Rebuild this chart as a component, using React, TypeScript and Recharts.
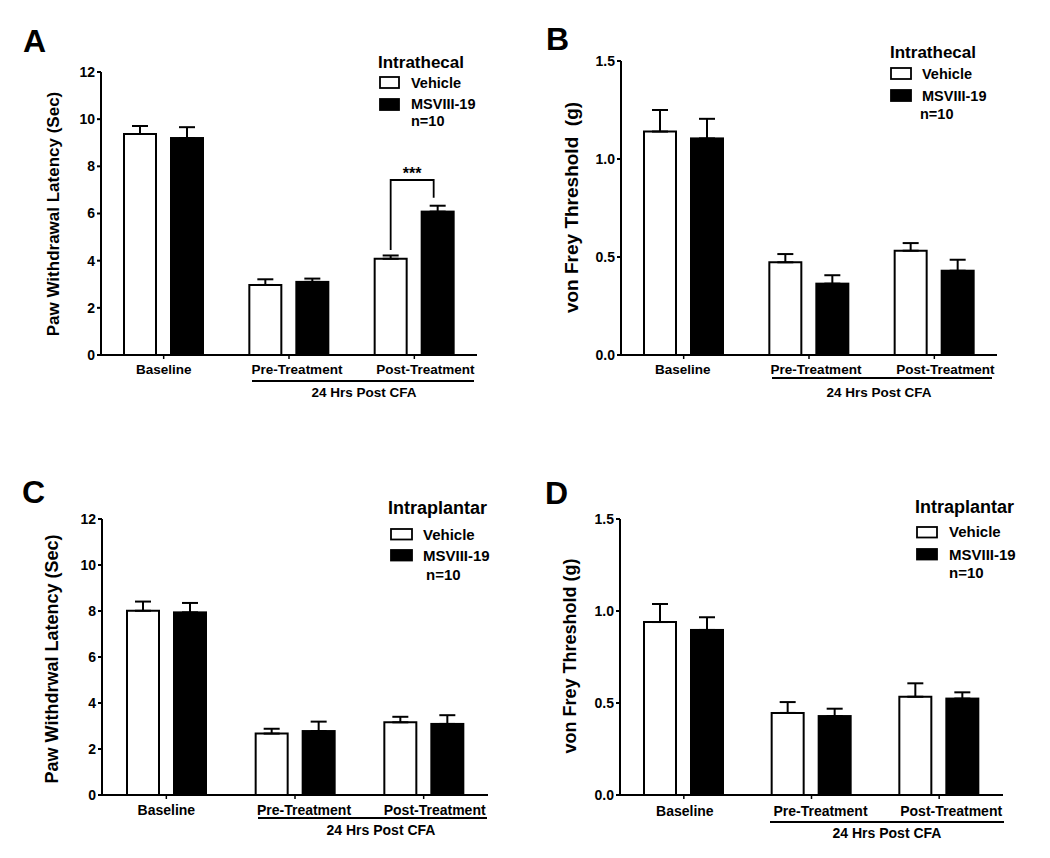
import React from "react"
import { BarChart, Bar, XAxis, YAxis, ErrorBar } from "recharts"

const FONT = '"Liberation Sans", Arial, Helvetica, sans-serif'

// groups on the x axis
const categories = ["Baseline", "Pre-Treatment", "Post-Treatment"]

// A: intrathecal, paw withdrawal latency (sec)
const aVehicle = [9.37, 2.97, 4.08]
const aVehicleSem = [0.34, 0.24, 0.14]
const aMsviii = [9.2, 3.1, 6.08]
const aMsviiiSem = [0.46, 0.14, 0.25]

// B: intrathecal, von Frey threshold (g)
const bVehicle = [1.14, 0.473, 0.532]
const bVehicleSem = [0.11, 0.042, 0.039]
const bMsviii = [1.105, 0.364, 0.43]
const bMsviiiSem = [0.1, 0.043, 0.056]

// C: intraplantar, paw withdrawal latency (sec)
const cVehicle = [8.01, 2.67, 3.16]
const cVehicleSem = [0.4, 0.21, 0.24]
const cMsviii = [7.94, 2.78, 3.09]
const cMsviiiSem = [0.41, 0.41, 0.38]

// D: intraplantar, von Frey threshold (g)
const dVehicle = [0.94, 0.446, 0.534]
const dVehicleSem = [0.098, 0.059, 0.073]
const dMsviii = [0.897, 0.429, 0.524]
const dMsviiiSem = [0.069, 0.04, 0.034]

const latencyTicks = [0, 2, 4, 6, 8, 10, 12]
const thresholdTicks = [0, 0.5, 1.0, 1.5]

// significance bracket in panel A (values in seconds)
const aBracket = { category: "Post-Treatment", level: 7.42, leftEnd: 4.45, rightEnd: 6.67, label: "***" }

const buildRows = (veh: number[], vehSem: number[], ms: number[], msSem: number[]) =>
  categories.map((name, i) => ({
    name,
    veh: veh[i],
    vehErr: [0, vehSem[i]],
    ms: ms[i],
    msErr: [0, msSem[i]],
  }))

const Y_AXIS_W = 60
const X_AXIS_H = 30
const BAR_SIZE = 32
const BAR_GAP = 15

const panels = [
  {
    key: "A",
    rows: buildRows(aVehicle, aVehicleSem, aMsviii, aMsviiiSem),
    ticks: latencyTicks,
    decimals: 0,
    frame: { x: 0, y: 0, w: 520, h: 430 },
    plot: { axisX: 101, top: 72, bottom: 355, right: 477 },
    tickFont: 13.5,
    tickMargin: 5,
    labelShift: [0, 8, 11],
    bracket: aBracket,
  },
  {
    key: "B",
    rows: buildRows(bVehicle, bVehicleSem, bMsviii, bMsviiiSem),
    ticks: thresholdTicks,
    decimals: 1,
    frame: { x: 520, y: 0, w: 530, h: 430 },
    plot: { axisX: 621, top: 61, bottom: 355, right: 997 },
    tickFont: 13.5,
    tickMargin: 5,
    labelShift: [-1, 7, 11],
    bracket: null,
  },
  {
    key: "C",
    rows: buildRows(cVehicle, cVehicleSem, cMsviii, cMsviiiSem),
    ticks: latencyTicks,
    decimals: 0,
    frame: { x: 0, y: 430, w: 520, h: 428 },
    plot: { axisX: 102, top: 519, bottom: 795, right: 488 },
    tickFont: 14,
    tickMargin: 6,
    labelShift: [0, 9, 11],
    bracket: null,
  },
  {
    key: "D",
    rows: buildRows(dVehicle, dVehicleSem, dMsviii, dMsviiiSem),
    ticks: thresholdTicks,
    decimals: 1,
    frame: { x: 520, y: 430, w: 530, h: 428 },
    plot: { axisX: 620, top: 519, bottom: 795, right: 1003 },
    tickFont: 14,
    tickMargin: 7,
    labelShift: [1, 9, 12],
    bracket: null,
  },
]

// text decorations: panel letter, axis title, legend, CFA underline
const overlays = [
  {
    letter: { x: 23, y: 52 },
    yLabel: { text: "Paw Withdrawal Latency (Sec)", x: 58.7, y: 214, size: 17 },
    legend: {
      title: "Intrathecal", tx: 378, ty: 68, tsize: 17,
      box: { x: 380, w: 19, h: 11, y1: 77, y2: 99 },
      ix: 411, iy: [88, 109], nx: 411, ny: 126, isize: 14.5,
    },
    cfa: { x1: 252, x2: 474, y: 381, tx: 364, ty: 397, size: 13.5 },
  },
  {
    letter: { x: 546, y: 50 },
    yLabel: { text: "von Frey Threshold  (g)", x: 577.5, y: 207.5, size: 19 },
    legend: {
      title: "Intrathecal", tx: 890, ty: 58, tsize: 17,
      box: { x: 891, w: 20, h: 11, y1: 68, y2: 90 },
      ix: 922, iy: [79, 100.5], nx: 920, ny: 119, isize: 14.5,
    },
    cfa: { x1: 772, x2: 992, y: 378, tx: 879, ty: 396.5, size: 13.5 },
  },
  {
    letter: { x: 22, y: 503 },
    yLabel: { text: "Paw Withdrwal Latency (Sec)", x: 58, y: 659, size: 18 },
    legend: {
      title: "Intraplantar", tx: 388, ty: 514, tsize: 18,
      box: { x: 391, w: 21, h: 10.5, y1: 529, y2: 550 },
      ix: 423, iy: [539.5, 560.5], nx: 426, ny: 580, isize: 15,
    },
    cfa: { x1: 258, x2: 487, y: 818, tx: 381, ty: 835, size: 14 },
  },
  {
    letter: { x: 545, y: 504 },
    yLabel: { text: "von Frey Threshold (g)", x: 576, y: 656, size: 18 },
    legend: {
      title: "Intraplantar", tx: 915, ty: 513, tsize: 18,
      box: { x: 917, w: 20, h: 10.5, y1: 527, y2: 549 },
      ix: 949, iy: [536.5, 560], nx: 949, ny: 578, isize: 15,
    },
    cfa: { x1: 770, x2: 1004, y: 822, tx: 887, ty: 838, size: 14 },
  },
]

const makeFilledShape = (bracket: any) => (props: any) => {
  const { x, y, width, height, payload } = props
  const bar = <rect x={x} y={y} width={width} height={height} fill="#000" stroke="#000" strokeWidth={2} />
  if (!bracket || !payload || payload.name !== bracket.category) return bar
  const perUnit = height / payload.ms
  const base = y + height
  const yAt = (v: number) => base - v * perUnit
  const rightX = x + width / 2 - 4
  const leftX = x + width / 2 - width - BAR_GAP
  const topY = yAt(bracket.level)
  return (
    <g>
      {bar}
      <polyline
        points={`${leftX},${yAt(bracket.leftEnd)} ${leftX},${topY} ${rightX},${topY} ${rightX},${yAt(bracket.rightEnd)}`}
        fill="none"
        stroke="#000"
        strokeWidth={1.8}
      />
      <text
        x={(leftX + rightX) / 2}
        y={topY - 1}
        textAnchor="middle"
        fontSize={16}
        fontWeight="bold"
        fontFamily={FONT}
        fill="#000"
      >
        {bracket.label}
      </text>
    </g>
  )
}

function CategoryTick(props: any) {
  const { x, y, payload, index, shifts, fontSize } = props
  return (
    <text
      x={x + (shifts[index] || 0)}
      y={y}
      dy="0.71em"
      textAnchor="middle"
      fontSize={fontSize}
      fontWeight="bold"
      fontFamily={FONT}
      fill="#000"
    >
      {payload.value}
    </text>
  )
}

function PanelChart({ spec }: { spec: any }) {
  const { frame, plot } = spec
  const margin = {
    top: plot.top - frame.y,
    right: frame.x + frame.w - plot.right,
    bottom: frame.y + frame.h - plot.bottom - X_AXIS_H,
    left: plot.axisX - frame.x - Y_AXIS_W,
  }
  const max = spec.ticks[spec.ticks.length - 1]

  return (
    <div style={{ position: "absolute", left: frame.x, top: frame.y }}>
      <BarChart
        width={frame.w}
        height={frame.h}
        data={spec.rows}
        margin={margin}
        barSize={BAR_SIZE}
        barGap={BAR_GAP}
      >
        <XAxis
          dataKey="name"
          height={X_AXIS_H}
          interval={0}
          axisLine={{ stroke: "#000", strokeWidth: 2 }}
          tickLine={{ stroke: "#000", strokeWidth: 1.5 }}
          tickSize={4}
          tickMargin={spec.tickMargin}
          tick={(p: any) => <CategoryTick {...p} shifts={spec.labelShift} fontSize={spec.tickFont} />}
        />
        <YAxis
          width={Y_AXIS_W}
          domain={[0, max]}
          ticks={spec.ticks}
          interval={0}
          axisLine={{ stroke: "#000", strokeWidth: 2 }}
          tickLine={{ stroke: "#000", strokeWidth: 2 }}
          tickSize={4}
          tickMargin={2}
          tickFormatter={(v: number) => v.toFixed(spec.decimals)}
          tick={{ fill: "#000", fontSize: 14, fontWeight: 700, fontFamily: FONT }}
        />
        <Bar dataKey="veh" fill="#fff" stroke="#000" strokeWidth={2} isAnimationActive={false}>
          <ErrorBar dataKey="vehErr" width={8} stroke="#000" strokeWidth={2} isAnimationActive={false} />
        </Bar>
        <Bar dataKey="ms" fill="#000" shape={makeFilledShape(spec.bracket)} isAnimationActive={false}>
          <ErrorBar dataKey="msErr" width={8} stroke="#000" strokeWidth={2} isAnimationActive={false} />
        </Bar>
      </BarChart>
    </div>
  )
}

function Decorations() {
  return (
    <svg
      width={1050}
      height={858}
      style={{ position: "absolute", left: 0, top: 0, pointerEvents: "none" }}
      fontFamily={FONT}
      fontWeight="bold"
      fill="#000"
    >
      {overlays.map((o, i) => {
        const lg = o.legend
        return (
          <g key={i}>
            <text x={o.letter.x} y={o.letter.y} fontSize={32}>
              {panels[i].key}
            </text>
            <text
              x={o.yLabel.x}
              y={o.yLabel.y}
              fontSize={o.yLabel.size}
              textAnchor="middle"
              transform={`rotate(-90 ${o.yLabel.x} ${o.yLabel.y})`}
              style={{ whiteSpace: "pre" }}
            >
              {o.yLabel.text}
            </text>
            <text x={lg.tx} y={lg.ty} fontSize={lg.tsize}>
              {lg.title}
            </text>
            <rect x={lg.box.x} y={lg.box.y1} width={lg.box.w} height={lg.box.h} fill="#fff" stroke="#000" strokeWidth={1.8} />
            <rect x={lg.box.x} y={lg.box.y2} width={lg.box.w} height={lg.box.h} fill="#000" stroke="#000" strokeWidth={1.8} />
            <text x={lg.ix} y={lg.iy[0]} fontSize={lg.isize}>
              Vehicle
            </text>
            <text x={lg.ix} y={lg.iy[1]} fontSize={lg.isize}>
              MSVIII-19
            </text>
            <text x={lg.nx} y={lg.ny} fontSize={lg.isize}>
              n=10
            </text>
            <line x1={o.cfa.x1} x2={o.cfa.x2} y1={o.cfa.y} y2={o.cfa.y} stroke="#000" strokeWidth={2} />
            <text x={o.cfa.tx} y={o.cfa.ty} fontSize={o.cfa.size} textAnchor="middle">
              24 Hrs Post CFA
            </text>
          </g>
        )
      })}
    </svg>
  )
}

export default function App() {
  return (
    <div
      style={{
        position: "absolute",
        left: 0,
        top: 0,
        width: 1050,
        height: 858,
        background: "#fff",
        fontFamily: FONT,
      }}
    >
      {panels.map((p) => (
        <PanelChart key={p.key} spec={p} />
      ))}
      <Decorations />
    </div>
  )
}
